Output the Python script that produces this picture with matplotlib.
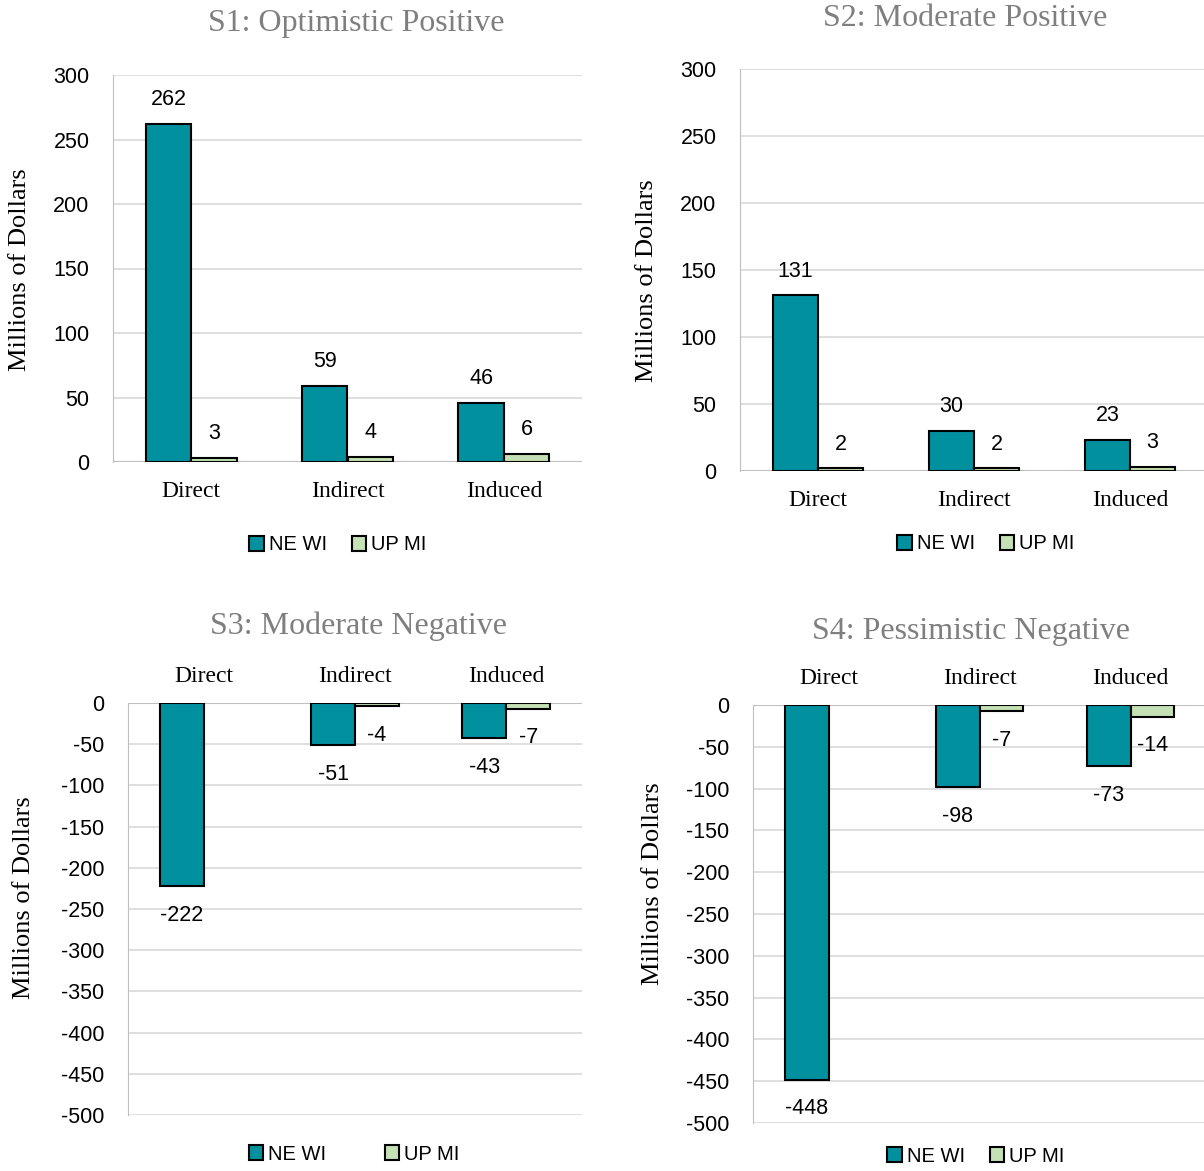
import numpy as np
from matplotlib import pyplot as plt
from matplotlib import rcParams

rcParams["font.family"] = "Liberation Sans"
rcParams["axes.unicode_minus"] = False

categories = ["Direct", "Indirect", "Induced"]
series = ["NE WI", "UP MI"]
titles = [
    "S1: Optimistic Positive",
    "S2: Moderate Positive",
    "S3: Moderate Negative",
    "S4: Pessimistic Negative",
]
# Direct UP MI has no bar in S3/S4
ne_wi = [[262, 59, 46], [131, 30, 23], [-222, -51, -43], [-448, -98, -73]]
up_mi = [[3, 4, 6], [2, 2, 3], [np.nan, -4, -7], [np.nan, -7, -14]]
ylims = [(0, 300), (0, 300), (-500, 0), (-500, 0)]

teal = "#00909E"
green = "#C5E0B4"
grid_c = "#D9D9D9"
title_c = "#7F7F7F"

W, H = 1204, 1171
fig = plt.figure(figsize=(W / 100, H / 100), dpi=100)

# axes rectangles in pixels: left, top, right, bottom
boxes = [(113, 75, 582, 462), (740, 69, 1208, 471), (128, 703, 582, 1115), (753, 705, 1206, 1123)]
title_pos = [(356, 23), (965, 18), (359, 626), (971, 631)]
ylab_pos = [(20, 270), (647, 281), (24, 898), (653, 884)]
leg_pos = [(338, 545), (986, 544), (354, 1154), (976, 1156)]
leg_space = [1.25, 1.25, 2.9, 1.25]

x = np.arange(len(categories))
bw = 0.29

for i in range(4):
    l, t, r, b = boxes[i]
    ax = fig.add_axes([l / W, 1 - b / H, (r - l) / W, (b - t) / H])
    h1 = ax.bar(x - bw / 2, ne_wi[i], bw, color=teal, edgecolor="black", linewidth=1.5, zorder=3)
    h2 = ax.bar(x + bw / 2, up_mi[i], bw, color=green, edgecolor="black", linewidth=1.5, zorder=3)
    neg = ylims[i][1] == 0

    for xs, vals in [(x - bw / 2, ne_wi[i]), (x + bw / 2, up_mi[i])]:
        for xx, v in zip(xs, vals):
            if np.isnan(v):
                continue
            off = -21 if neg else 17.5
            ax.annotate(f"{v:g}", (xx, v), xytext=(0, off), textcoords="offset points",
                        ha="center", va="center", fontsize=15.5)

    ax.set_xlim(-0.5, 2.5)
    ax.set_ylim(*ylims[i])
    ax.set_yticks(np.arange(ylims[i][0], ylims[i][1] + 1, 50))
    ax.set_xticks(x)
    ax.set_xticklabels(categories, fontfamily="Liberation Serif", fontsize=17)
    ax.tick_params(axis="both", length=0)
    ax.tick_params(axis="y", labelsize=15.5, pad=17)
    ax.tick_params(axis="x", pad=14)
    if neg:
        ax.xaxis.tick_top()
        ax.tick_params(axis="x", pad=11.5)
    ax.yaxis.grid(True, color=grid_c, linewidth=1.2, zorder=0)
    for sp in ["top", "right", "bottom"]:
        ax.spines[sp].set_visible(False)
    ax.spines["left"].set_color("#BFBFBF")
    ax.axhline(0, color="#BFBFBF", linewidth=1.5, zorder=2)

    tx, ty = title_pos[i]
    fig.text(tx / W, 1 - ty / H, titles[i], ha="center", va="center",
             fontfamily="Liberation Serif", fontsize=23, color=title_c)
    yx, yy = ylab_pos[i]
    fig.text(yx / W, 1 - yy / H, "Millions of Dollars", ha="center", va="center",
             rotation=90, fontfamily="Liberation Serif", fontsize=19)
    lx, ly = leg_pos[i]
    fig.legend([h1, h2], series, loc="center", bbox_to_anchor=(lx / W, 1 - ly / H),
               ncol=2, frameon=False, fontsize=14.5, handlelength=0.72, handleheight=0.72,
               handletextpad=0.25, columnspacing=leg_space[i])

plt.savefig("out.png", dpi=100)
